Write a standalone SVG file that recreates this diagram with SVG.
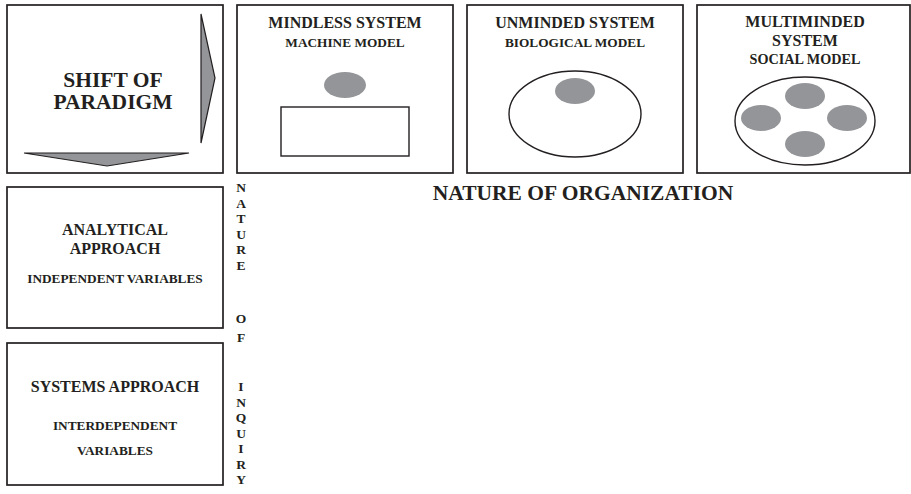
<svg xmlns="http://www.w3.org/2000/svg" width="911" height="494" viewBox="0 0 911 494">
<style>
.box{fill:#fff;stroke:#231f20;stroke-width:1.7}
.thin{fill:#fff;stroke:#231f20;stroke-width:1.4}
.dot{fill:#939598}
.arr{fill:#939598;stroke:#231f20;stroke-width:1.2}
text{font-family:"Liberation Serif","Times New Roman",serif;font-weight:bold;fill:#231f20;text-anchor:middle}
.t21{font-size:21.5px}
.t16{font-size:16px}
.t15{font-size:16px}
.t13{font-size:13.3px}
.t14{font-size:14.2px}
.t20{font-size:21.5px}
.v{font-size:13.5px}
</style>
<rect width="911" height="494" fill="#fff"/>
<g id="shift">
<rect class="box" x="7" y="5" width="216" height="168"/>
<text class="t21" x="113" y="87">SHIFT OF</text>
<text class="t21" x="113" y="109">PARADIGM</text>
</g>
<g id="connectors">
<polygon class="arr" points="201,14 215,78 201,143"/>
<polygon class="arr" points="24,153 189,153 107,166"/>
</g>
<g id="mindless">
<rect class="box" x="237" y="5" width="216" height="168"/>
<text class="t16" x="345" y="28">MINDLESS SYSTEM</text>
<text class="t13" x="345" y="47">MACHINE MODEL</text>
<ellipse class="dot" cx="345" cy="85" rx="21" ry="13"/>
<rect class="thin" x="281" y="107" width="128" height="49"/>
</g>
<g id="unminded">
<rect class="box" x="467" y="5" width="216" height="168"/>
<text class="t16" x="575" y="28">UNMINDED SYSTEM</text>
<text class="t13" x="575" y="47">BIOLOGICAL MODEL</text>
<ellipse class="thin" cx="575" cy="114" rx="66" ry="43"/>
<ellipse class="dot" cx="575" cy="91" rx="20" ry="13"/>
</g>
<g id="multiminded">
<rect class="box" x="697" y="5" width="213" height="168"/>
<text class="t16" x="805" y="27">MULTIMINDED</text>
<text class="t16" x="805" y="46">SYSTEM</text>
<text class="t14" x="805" y="64">SOCIAL MODEL</text>
<ellipse class="thin" cx="805" cy="121" rx="70" ry="44"/>
<ellipse class="dot" cx="805" cy="96" rx="20" ry="13"/>
<ellipse class="dot" cx="761" cy="118" rx="20" ry="13"/>
<ellipse class="dot" cx="847" cy="118" rx="20" ry="13"/>
<ellipse class="dot" cx="805" cy="144" rx="20" ry="13"/>
</g>
<g id="nature-org">
<text class="t20" x="583" y="200">NATURE OF ORGANIZATION</text>
</g>
<g id="analytical">
<rect class="box" x="7" y="187" width="216" height="141"/>
<text class="t15" x="115" y="235">ANALYTICAL</text>
<text class="t15" x="115" y="254">APPROACH</text>
<text class="t13" x="115" y="283">INDEPENDENT VARIABLES</text>
</g>
<g id="systems">
<rect class="box" x="7" y="343" width="216" height="142"/>
<text class="t15" x="115" y="392">SYSTEMS APPROACH</text>
<text class="t13" x="115" y="430">INTERDEPENDENT</text>
<text class="t13" x="115" y="455">VARIABLES</text>
</g>
<g id="nature-inq">
<text class="v" x="241" y="192">N</text>
<text class="v" x="241" y="207.5">A</text>
<text class="v" x="241" y="223">T</text>
<text class="v" x="241" y="238.5">U</text>
<text class="v" x="241" y="254">R</text>
<text class="v" x="241" y="269.5">E</text>
<text class="v" x="241" y="323">O</text>
<text class="v" x="241" y="342">F</text>
<text class="v" x="241" y="391">I</text>
<text class="v" x="241" y="406.5">N</text>
<text class="v" x="241" y="422">Q</text>
<text class="v" x="241" y="437.5">U</text>
<text class="v" x="241" y="453">I</text>
<text class="v" x="241" y="468.5">R</text>
<text class="v" x="241" y="484">Y</text>
</g>
</svg>
